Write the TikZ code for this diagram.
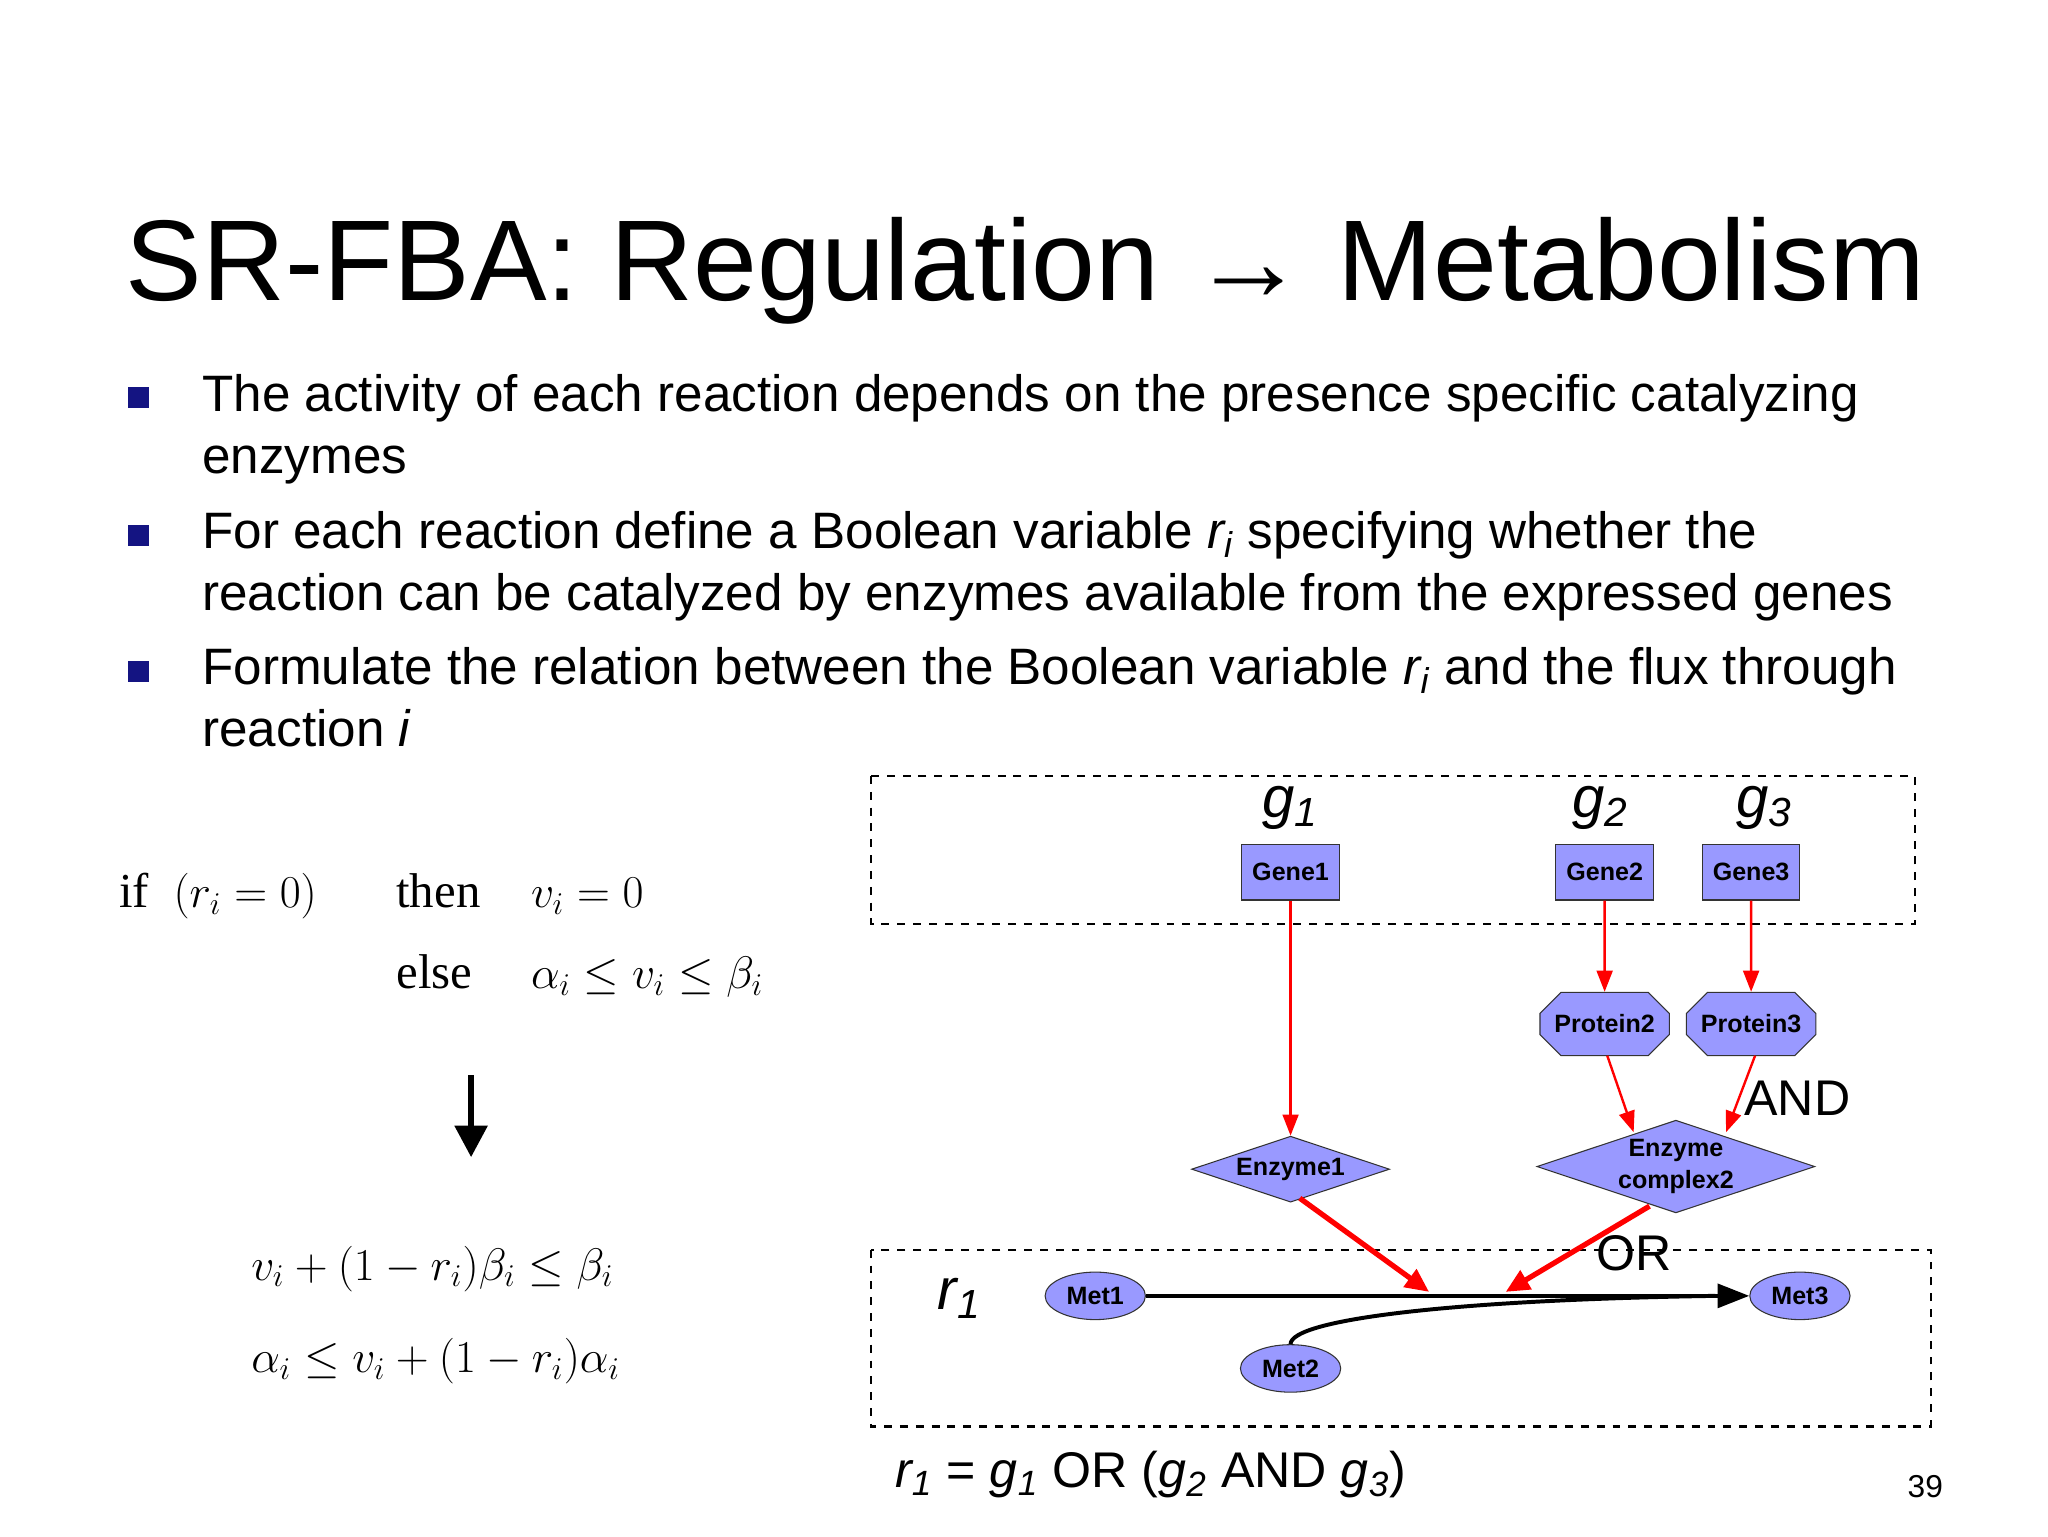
\documentclass[tikz,border=0pt]{standalone}
\usepackage{fontspec}
\setmainfont{Liberation Sans}
\newfontfamily\serifft{Liberation Serif}
\usetikzlibrary{shapes.geometric,shapes.misc,arrows.meta}
\begin{document}
\begin{tikzpicture}[x=0.5pt,y=-0.5pt,
  nd/.style={draw=black!80,fill=blue!40!white,font=\bfseries\fontsize{9.5}{10}\selectfont,inner sep=1pt},
  gene/.style={nd,rectangle,minimum width=37pt,minimum height=21pt},
  prot/.style={nd,chamfered rectangle,chamfered rectangle xsep=6pt,minimum width=49pt,minimum height=24pt},
  enz/.style={nd,diamond,aspect=3,inner sep=0pt},
  met/.style={nd,ellipse,minimum width=38pt,minimum height=18pt,inner sep=0pt},
  rarr/.style={red,line width=0.9pt,-{Triangle[length=8pt,width=6pt]}},
  rarrb/.style={red,line width=2pt,-{Triangle[length=9pt,width=8pt]}},
  box/.style={draw,dashed,line width=0.8pt},
  btxt/.style={font=\fontsize{19.4}{23}\selectfont,anchor=base west,inner sep=0pt},
  bul/.style={fill={rgb,255:red,20;green,20;blue,130},minimum size=8pt,inner sep=0pt}]
\useasboundingbox[fill=white] (0,0) rectangle (1552,1164);
% title
\node[anchor=base west,inner sep=0pt,font=\fontsize{43.5}{50}\selectfont] (title) at (95,228) {SR-FBA: Regulation → Metabolism};
% bullets
\node[bul] (b1) at (105,301) {};
\node[btxt] (t1) at (153,312) {The activity of each reaction depends on the presence specific catalyzing};
\node[btxt] (t1b) at (153,359) {enzymes};
\node[bul] (b2) at (105,406) {};
\node[btxt] (t2) at (153,416) {For each reaction define a Boolean variable \textit{r\textsubscript{i}} specifying whether the};
\node[btxt] (t2b) at (153,463) {reaction can be catalyzed by enzymes available from the expressed genes};
\node[bul] (b3) at (105,509) {};
\node[btxt] (t3) at (153,519) {Formulate the relation between the Boolean variable \textit{r\textsubscript{i}} and the flux through};
\node[btxt] (t3b) at (153,566) {reaction \textit{i}};
% left math
\begin{scope}[font=\serifft\fontsize{18.5}{22}\selectfont,inner sep=0pt]
\node[anchor=base west] (if) at (90,688) {if\ \ $(r_i=0)$};
\node[anchor=base west] (then) at (300,688) {then};
\node[anchor=base west] (v0) at (402,688) {$v_i=0$};
\node[anchor=base west] (else) at (300,749) {else};
\node[anchor=base west] (ab) at (402,749) {$\alpha_i\le v_i\le\beta_i$};
\node[anchor=base west] (e1) at (190,970) {$v_i+(1-r_i)\beta_i\le\beta_i$};
\node[anchor=base west] (e2) at (190,1040) {$\alpha_i\le v_i+(1-r_i)\alpha_i$};
\end{scope}
\coordinate (da) at (357,815);
\coordinate (db) at (357,877);
\draw[line width=2.5pt,-{Triangle[length=12pt,width=12pt]}] (da) -- (db);
% boxes
\draw[box] (660,588) rectangle (1451,700);
\draw[box] (660,947) rectangle (1463,1081);
% g labels
\begin{scope}[font=\itshape\fontsize{22}{24}\selectfont]
\node (g1) at (978,612) {g\textsubscript{1}};
\node (g2) at (1213,612) {g\textsubscript{2}};
\node (g3) at (1337,612) {g\textsubscript{3}};
\node (r1) at (727,984) {r\textsubscript{1}};
\end{scope}
\node[gene] (G1) at (978,661) {Gene1};
\node[gene] (G2) at (1216,661) {Gene2};
\node[gene] (G3) at (1327,661) {Gene3};
\node[prot] (P2) at (1216,776) {Protein2};
\node[prot] (P3) at (1327,776) {Protein3};
\node[enz,minimum width=75pt,minimum height=25pt] (E1) at (978,886) {Enzyme1};
\node[enz,minimum width=105pt,minimum height=35pt,align=center,font=\bfseries\fontsize{9.5}{12}\selectfont] (E2) at (1270,884) {Enzyme\\complex2};
\node[met] (M1) at (830,982) {Met1};
\node[met] (M3) at (1364,982) {Met3};
\node[met] (M2) at (978,1037) {Met2};
\draw[rarr] (G1) -- (E1);
\draw[rarr] (G2) -- (P2);
\draw[rarr] (G3) -- (P3);
\coordinate (p2s) at (1218,800);
\coordinate (p3s) at (1330,800);
\coordinate (e2a) at (1238,858);
\coordinate (e2b) at (1308,858);
\draw[rarr] (p2s) -- (e2a);
\draw[rarr] (p3s) -- (e2b);
\coordinate (j1) at (1083,979);
\coordinate (j2) at (1141,979);
\coordinate (e1s) at (985,908);
\coordinate (e2s) at (1250,914);
\draw[line width=1.5pt,-{Triangle[length=12pt,width=9pt]}] (M1) -- (M3);
\draw[line width=1.5pt] (M2.north) .. controls (978,1000) and (1100,985) .. (1300,982);
\draw[rarrb] (e1s) -- (j1);
\draw[rarrb] (e2s) -- (j2);
\node[font=\fontsize{19}{20}\selectfont] (and) at (1362,832) {AND};
\node[font=\fontsize{19}{20}\selectfont] (or) at (1238,950) {OR};
\node[anchor=base west,inner sep=0pt,font=\fontsize{19}{20}\selectfont] (form) at (678,1127) {\textit{r\textsubscript{1}} = \textit{g\textsubscript{1}} OR (\textit{g\textsubscript{2}} AND \textit{g\textsubscript{3}})};
\node[anchor=base,font=\fontsize{12}{14}\selectfont] (pg) at (1459,1135) {39};
\end{tikzpicture}
\end{document}
